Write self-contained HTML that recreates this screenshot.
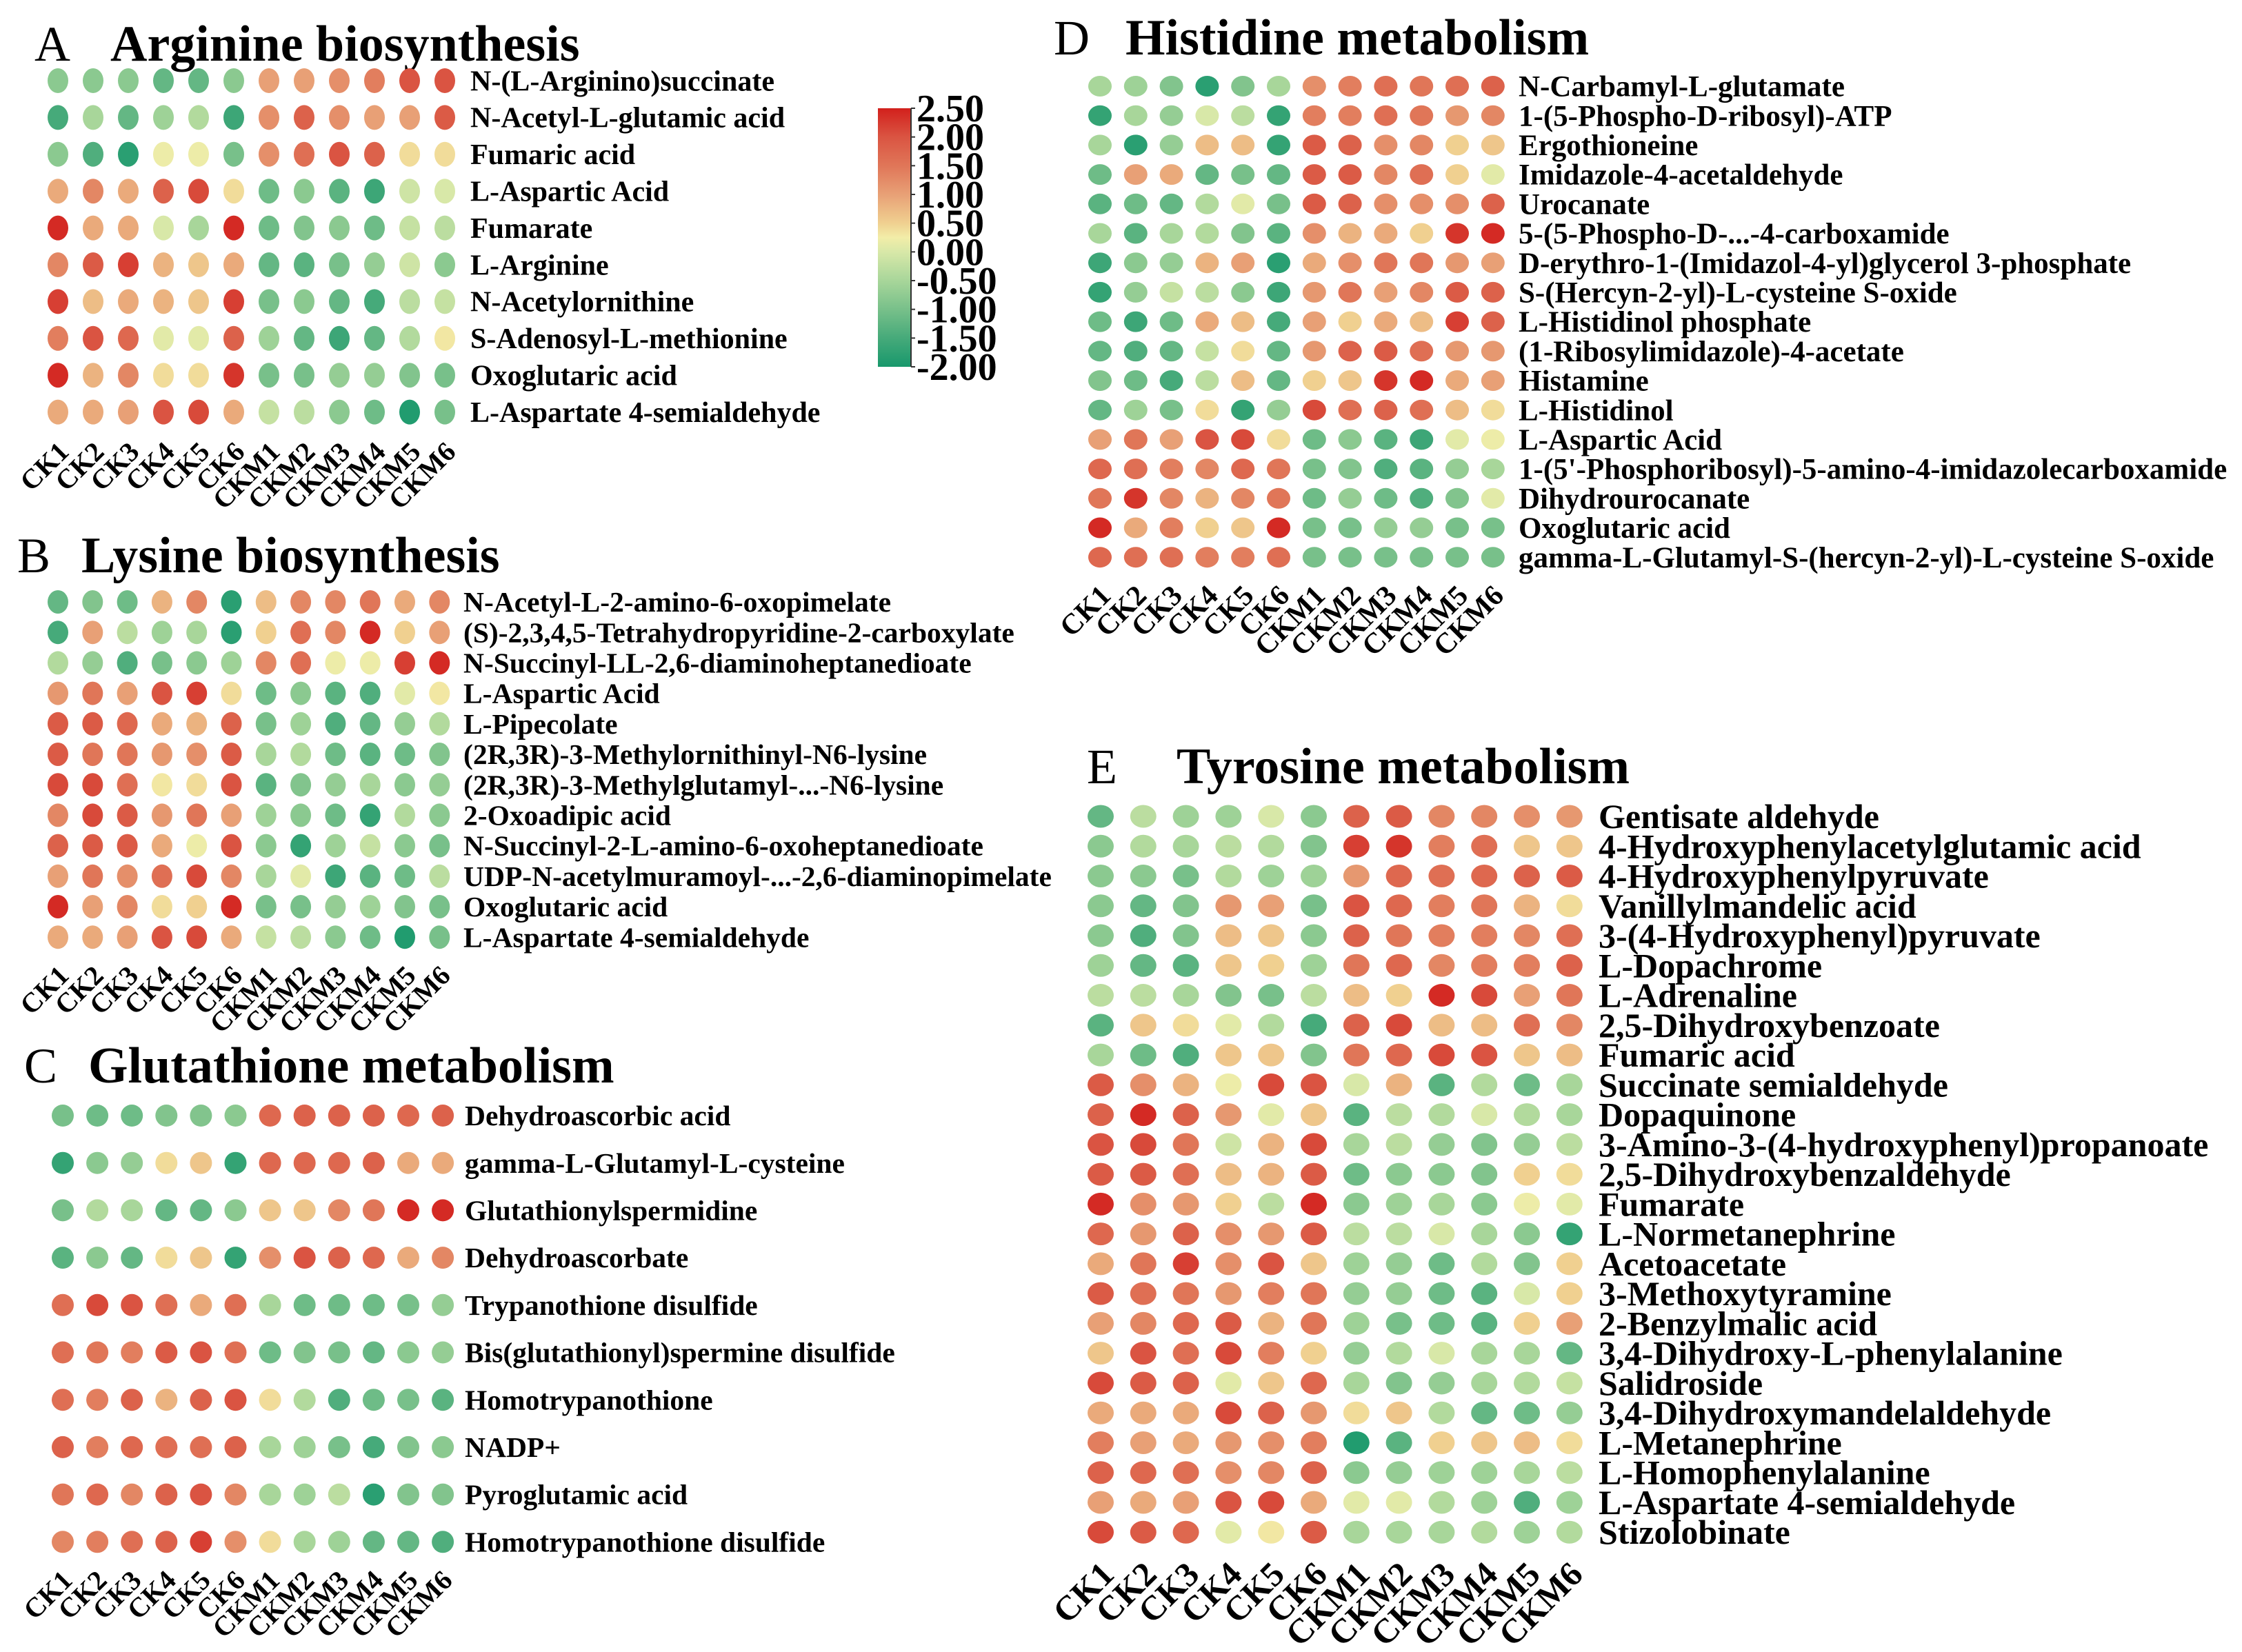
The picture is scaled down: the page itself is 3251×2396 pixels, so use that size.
<!DOCTYPE html>
<html><head><meta charset="utf-8"><title>Metabolic pathway heatmaps</title>
<style>
html,body{margin:0;padding:0;background:#fff;}
svg{display:block;}
text{font-family:"Liberation Serif","Times New Roman",serif;fill:#000;}
</style></head>
<body>
<svg id="fig" xmlns="http://www.w3.org/2000/svg" width="3251" height="2396" viewBox="0 0 3251 2396">
<rect x="0" y="0" width="3251" height="2396" fill="#fff"/>
<g id="colorbar"></g>
</svg>
<script>
const samples = ["CK1","CK2","CK3","CK4","CK5","CK6","CKM1","CKM2","CKM3","CKM4","CKM5","CKM6"];
const colorbarTicks = [2.5,2.0,1.5,1.0,0.5,0.0,-0.5,-1.0,-1.5,-2.0];
const colorbarLabels = ["2.50","2.00","1.50","1.00","0.50","0.00","-0.50","-1.00","-1.50","-2.00"];

const aRows = ["N-(L-Arginino)succinate","N-Acetyl-L-glutamic acid","Fumaric acid","L-Aspartic Acid","Fumarate","L-Arginine","N-Acetylornithine","S-Adenosyl-L-methionine","Oxoglutaric acid","L-Aspartate 4-semialdehyde"];
const aValues = [
[-0.8,-0.8,-0.8,-1.2,-1.2,-0.8,1.0,1.0,1.2,1.4,2.0,2.0],
[-1.5,-0.5,-1.2,-0.6,-0.4,-1.6,1.2,1.8,1.2,1.0,1.0,1.9],
[-0.8,-1.4,-1.8,0.2,0.2,-1.0,1.2,1.6,2.0,1.8,0.4,0.4],
[0.9,1.3,0.9,1.8,2.1,0.4,-1.1,-0.8,-1.3,-1.6,-0.1,0.0],
[2.4,0.9,0.9,0.0,-0.5,2.4,-1.1,-0.9,-0.8,-1.1,-0.2,-0.3],
[1.3,1.9,2.2,0.8,0.6,0.9,-1.2,-1.3,-1.0,-0.7,-0.1,-0.8],
[2.2,0.7,0.9,0.8,0.6,2.2,-1.0,-0.8,-1.2,-1.5,-0.3,-0.2],
[1.4,2.0,1.7,0.1,0.1,1.8,-0.6,-1.2,-1.6,-1.2,-0.4,0.3],
[2.4,0.8,1.3,0.4,0.4,2.3,-1.0,-1.0,-0.7,-0.7,-0.9,-1.0],
[0.9,0.9,1.0,2.0,2.1,0.9,-0.2,-0.3,-0.8,-1.1,-1.9,-1.0]];

const bRows = ["N-Acetyl-L-2-amino-6-oxopimelate","(S)-2,3,4,5-Tetrahydropyridine-2-carboxylate","N-Succinyl-LL-2,6-diaminoheptanedioate","L-Aspartic Acid","L-Pipecolate","(2R,3R)-3-Methylornithinyl-N6-lysine","(2R,3R)-3-Methylglutamyl-...-N6-lysine","2-Oxoadipic acid","N-Succinyl-2-L-amino-6-oxoheptanedioate","UDP-N-acetylmuramoyl-...-2,6-diaminopimelate","Oxoglutaric acid","L-Aspartate 4-semialdehyde"];
const bValues = [
[-1.2,-0.9,-1.1,0.8,1.3,-1.8,0.7,1.3,1.3,1.5,0.9,1.3],
[-1.5,1.0,-0.3,-0.6,-0.5,-1.8,0.5,1.6,1.3,2.4,0.5,1.0],
[-0.4,-0.7,-1.4,-1.0,-0.8,-0.6,1.3,1.6,0.2,0.2,2.2,2.4],
[1.1,1.5,1.0,2.0,2.2,0.4,-1.1,-0.8,-1.3,-1.4,0.1,0.3],
[1.9,1.9,1.7,0.9,0.8,1.8,-1.0,-0.6,-1.4,-1.2,-0.7,-0.4],
[1.9,1.5,1.5,1.1,1.2,1.9,-0.5,-0.4,-1.1,-1.3,-1.1,-0.9],
[2.1,2.1,1.6,0.3,0.4,2.0,-1.3,-0.9,-0.7,-0.5,-0.8,-0.7],
[1.3,2.1,1.9,1.1,1.5,1.0,-0.6,-0.8,-1.1,-1.7,-0.4,-0.8],
[1.8,1.9,1.9,0.9,0.2,2.0,-0.8,-1.7,-0.6,-0.2,-0.8,-1.0],
[1.0,1.5,1.2,1.6,2.1,1.3,-0.5,0.1,-1.6,-1.3,-1.1,-0.3],
[2.4,1.0,1.3,0.4,0.5,2.4,-1.0,-1.0,-0.7,-0.6,-0.9,-1.0],
[0.9,0.9,1.0,2.0,2.1,0.9,-0.2,-0.3,-0.8,-1.1,-1.9,-1.0]];

const cRows = ["Dehydroascorbic acid","gamma-L-Glutamyl-L-cysteine","Glutathionylspermidine","Dehydroascorbate","Trypanothione disulfide","Bis(glutathionyl)spermine disulfide","Homotrypanothione","NADP+","Pyroglutamic acid","Homotrypanothione disulfide"];
const cValues = [
[-1.0,-1.1,-1.1,-0.9,-0.9,-0.8,1.7,1.8,1.8,1.8,1.7,1.8],
[-1.7,-0.8,-0.7,0.4,0.6,-1.7,1.7,1.7,1.7,1.8,0.9,0.9],
[-1.0,-0.4,-0.5,-1.2,-1.2,-0.8,0.6,0.6,1.3,1.5,2.4,2.4],
[-1.3,-0.8,-1.2,0.4,0.6,-1.7,1.2,2.0,1.8,1.7,0.9,1.3],
[1.6,2.1,2.0,1.6,0.9,1.6,-0.5,-1.1,-1.1,-1.1,-1.0,-0.7],
[1.6,1.5,1.4,1.9,2.0,1.6,-1.1,-0.9,-1.0,-1.2,-0.8,-0.7],
[1.6,1.4,1.8,0.8,1.8,2.0,0.4,-0.4,-1.4,-1.1,-1.0,-1.3],
[1.8,1.4,1.7,1.6,1.6,1.8,-0.5,-0.6,-1.0,-1.5,-0.9,-0.8],
[1.5,1.7,1.3,1.8,2.0,1.3,-0.5,-0.6,-0.3,-1.8,-0.9,-0.9],
[1.3,1.4,1.6,1.8,2.2,1.2,0.4,-0.5,-0.6,-1.2,-1.2,-1.4]];

const dRows = ["N-Carbamyl-L-glutamate","1-(5-Phospho-D-ribosyl)-ATP","Ergothioneine","Imidazole-4-acetaldehyde","Urocanate","5-(5-Phospho-D-...-4-carboxamide","D-erythro-1-(Imidazol-4-yl)glycerol 3-phosphate","S-(Hercyn-2-yl)-L-cysteine S-oxide","L-Histidinol phosphate","(1-Ribosylimidazole)-4-acetate","Histamine","L-Histidinol","L-Aspartic Acid","1-(5'-Phosphoribosyl)-5-amino-4-imidazolecarboxamide","Dihydrourocanate","Oxoglutaric acid","gamma-L-Glutamyl-S-(hercyn-2-yl)-L-cysteine S-oxide"];
const dValues = [
[-0.5,-0.6,-0.9,-1.8,-0.9,-0.5,1.2,1.4,1.6,1.5,1.6,1.8],
[-1.7,-0.5,-0.7,0.0,-0.3,-1.7,1.4,1.4,1.6,1.5,1.1,1.3],
[-0.5,-1.8,-0.7,0.7,0.7,-1.7,1.9,1.8,1.2,1.3,0.5,0.6],
[-1.1,1.0,0.9,-1.2,-1.0,-1.2,1.9,1.9,1.3,1.6,0.5,0.1],
[-1.3,-1.1,-1.2,-0.4,0.1,-1.0,1.9,1.8,1.2,1.2,1.2,1.8],
[-0.5,-1.3,-0.5,-0.4,-0.9,-1.3,1.2,0.8,0.9,0.5,2.3,2.4],
[-1.6,-0.8,-0.7,0.8,1.0,-1.8,0.9,1.2,1.5,1.5,1.1,1.0],
[-1.7,-0.7,-0.2,-0.3,-0.8,-1.6,1.1,1.5,1.0,1.3,1.9,1.8],
[-1.1,-1.6,-1.1,0.9,0.7,-1.5,1.0,0.5,0.9,0.7,2.2,1.8],
[-1.2,-1.4,-1.2,-0.2,0.4,-1.2,1.1,1.8,1.9,1.6,1.1,1.1],
[-0.9,-1.1,-1.5,-0.3,0.7,-1.2,0.5,0.6,2.3,2.4,0.9,1.0],
[-1.2,-0.6,-1.0,0.4,-1.7,-0.7,2.1,1.6,1.8,1.6,0.7,0.4],
[1.0,1.5,1.0,2.0,2.1,0.4,-1.1,-0.8,-1.3,-1.6,0.1,0.2],
[1.7,1.6,1.4,1.3,1.7,1.5,-1.0,-0.9,-1.4,-1.3,-0.7,-0.5],
[1.5,2.3,1.3,0.8,1.3,1.5,-1.1,-0.7,-1.1,-1.4,-0.9,0.1],
[2.4,0.9,1.4,0.5,0.6,2.4,-1.0,-1.0,-0.7,-0.7,-1.0,-1.0],
[1.7,1.6,1.6,1.4,1.4,1.6,-1.0,-1.0,-1.0,-1.0,-1.0,-1.0]];

const eRows = ["Gentisate aldehyde","4-Hydroxyphenylacetylglutamic acid","4-Hydroxyphenylpyruvate","Vanillylmandelic acid","3-(4-Hydroxyphenyl)pyruvate","L-Dopachrome","L-Adrenaline","2,5-Dihydroxybenzoate","Fumaric acid","Succinate semialdehyde","Dopaquinone","3-Amino-3-(4-hydroxyphenyl)propanoate","2,5-Dihydroxybenzaldehyde","Fumarate","L-Normetanephrine","Acetoacetate","3-Methoxytyramine","2-Benzylmalic acid","3,4-Dihydroxy-L-phenylalanine","Salidroside","3,4-Dihydroxymandelaldehyde","L-Metanephrine","L-Homophenylalanine","L-Aspartate 4-semialdehyde","Stizolobinate"];
const eValues = [
[-1.2,-0.3,-0.6,-0.6,0.0,-0.8,1.8,1.9,1.3,1.3,1.2,1.1],
[-0.8,-0.4,-0.5,-0.3,-0.4,-0.9,2.2,2.3,1.4,1.6,0.6,0.6],
[-0.8,-0.8,-1.0,-0.4,-0.6,-0.6,1.1,1.7,1.6,1.7,1.8,1.9],
[-0.8,-1.2,-0.9,1.1,1.0,-1.0,2.0,1.7,1.4,1.5,0.8,0.4],
[-0.8,-1.4,-0.9,0.7,0.6,-0.8,1.8,1.5,1.4,1.4,1.3,1.6],
[-0.6,-1.2,-1.3,0.6,0.5,-0.6,1.5,1.7,1.3,1.4,1.4,1.8],
[-0.3,-0.3,-0.5,-0.9,-1.0,-0.3,0.7,0.5,2.4,2.1,1.0,1.5],
[-1.3,0.6,0.4,0.1,-0.4,-1.5,1.8,2.1,0.7,0.7,1.6,1.3],
[-0.5,-1.1,-1.4,0.6,0.6,-0.9,1.5,1.7,2.1,2.0,0.6,0.7],
[1.9,1.2,0.8,0.2,2.1,2.0,0.0,0.8,-1.3,-0.4,-1.1,-0.5],
[1.8,2.4,1.8,1.1,0.1,0.6,-1.3,-0.3,-0.4,0.0,-0.4,-0.5],
[2.0,2.1,1.5,-0.1,0.8,2.1,-0.5,-0.3,-0.7,-0.9,-0.7,-0.3],
[1.9,1.9,1.6,0.7,0.8,1.9,-1.1,-0.8,-0.8,-0.9,0.5,0.4],
[2.4,1.2,1.1,0.5,-0.3,2.4,-0.8,-0.6,-0.5,-0.8,0.2,0.1],
[1.7,1.1,1.8,1.2,1.1,1.9,-0.3,-0.3,0.0,-0.5,-0.8,-1.7],
[0.9,1.5,2.2,1.2,2.0,0.6,-0.6,-0.7,-1.1,-0.4,-0.9,0.5],
[1.9,1.6,1.5,1.1,1.4,1.5,-0.7,-0.7,-1.1,-1.3,0.0,0.5],
[1.0,1.3,1.7,1.9,0.8,1.5,-0.6,-1.0,-1.1,-1.3,0.5,1.0],
[0.6,2.0,1.6,2.1,1.4,0.5,-0.7,-0.4,0.0,-0.5,-0.5,-1.2],
[2.1,1.9,1.8,0.1,0.6,1.7,-0.5,-0.9,-0.7,-0.5,-0.4,-0.2],
[0.9,0.9,0.9,2.1,1.8,1.1,0.4,0.6,-0.4,-1.2,-1.1,-0.7],
[1.4,1.0,0.9,1.1,1.2,1.4,-1.9,-1.3,0.5,0.6,0.7,0.4],
[1.8,1.7,1.6,1.2,1.3,1.8,-0.8,-0.7,-0.6,-0.6,-0.5,-0.3],
[1.0,0.9,1.0,2.0,2.1,0.9,0.1,0.1,-0.4,-0.6,-1.4,-0.6],
[2.1,1.9,1.7,0.1,0.3,1.9,-0.5,-0.5,-0.5,-0.4,-0.6,-0.4]];

const NS = "http://www.w3.org/2000/svg";
const svg = document.getElementById("fig");
const stops = [[-2.0,[24,152,108]],[-1.5,[70,170,122]],[-1.0,[120,192,138]],[-0.5,[168,214,154]],[0.0,[216,232,168]],[0.25,[242,237,168]],[0.5,[240,208,144]],[1.0,[232,160,118]],[1.5,[224,118,88]],[2.0,[218,84,66]],[2.5,[210,32,28]]];
function colorOf(v){
  if(v<=stops[0][0]) return "rgb("+stops[0][1].join(",")+")";
  for(let i=1;i<stops.length;i++){
    if(v<=stops[i][0]){
      const a=stops[i-1],b=stops[i],t=(v-a[0])/(b[0]-a[0]);
      return "rgb("+a[1].map((c,k)=>Math.round(c+(b[1][k]-c)*t)).join(",")+")";
    }
  }
  return "rgb("+stops[stops.length-1][1].join(",")+")";
}
function mk(tag,attrs,parent){
  const el=document.createElementNS(NS,tag);
  for(const k in attrs) el.setAttribute(k,attrs[k]);
  (parent||svg).appendChild(el);
  return el;
}

function drawPanel(letter,title,rows,values,L){
  const g=mk("g",{});
  
  
  const xOf=j=>L.x0+j*L.dx;
  const yOf=i=>L.y0+i*L.dy;
  const lt=mk("text",{x:L.lx,y:L.ty,"font-size":L.ls},g);
  lt.textContent=letter;
  
  
  const tt=mk("text",{x:L.tx,y:L.ty,"font-size":L.ts,"font-weight":"bold"},g);
  tt.textContent=title;
  
  
  for(let i=0;i<rows.length;i++){
    for(let j=0;j<samples.length;j++){
      const c=mk("ellipse",{cx:xOf(j),cy:yOf(i),rx:L.rx,ry:L.ry,fill:colorOf(values[i][j])},g);
      
      
    }
    const t=mk("text",{x:L.labelX,y:yOf(i)+L.fs*0.34,"font-size":L.fs,"font-weight":"bold"},g);
    t.textContent=rows[i];
    
    
  }
  const last=yOf(rows.length-1);
  for(let j=0;j<samples.length;j++){
    const ax=xOf(j)+L.tkx, ay=last+L.tky;
    const t=mk("text",{x:ax,y:ay,"font-size":L.tfs,"font-weight":"bold","text-anchor":"end",transform:"rotate(-45 "+ax+" "+ay+")"},g);
    t.textContent=samples[j];
    
    
  }
}

drawPanel("A","Arginine biosynthesis",aRows,aValues,{x0:84,dx:51.0,y0:117,dy:53.4,rx:15,ry:18,labelX:682,fs:42,lx:50,tx:160,ty:88,ls:72,ts:74,tkx:18,tky:60,tfs:40});
drawPanel("B","Lysine biosynthesis",bRows,bValues,{x0:84,dx:50.3,y0:873,dy:44.2,rx:15,ry:17,labelX:672,fs:41.5,lx:25,tx:118,ty:830,ls:72,ts:74,tkx:18,tky:58,tfs:40});
drawPanel("C","Glutathione metabolism",cRows,cValues,{x0:91,dx:50.1,y0:1618,dy:68.7,rx:16,ry:16,labelX:674,fs:41.5,lx:35,tx:128,ty:1570,ls:72,ts:74,tkx:16,tky:58,tfs:40});
drawPanel("D","Histidine metabolism",dRows,dValues,{x0:1595,dx:51.8,y0:125,dy:42.7,rx:17,ry:15,labelX:2202,fs:43,lx:1528,tx:1632,ty:79,ls:72,ts:74,tkx:18,tky:58,tfs:42});
drawPanel("E","Tyrosine metabolism",eRows,eValues,{x0:1596,dx:61.8,y0:1184,dy:43.26,rx:19,ry:16.5,labelX:2318,fs:50,lx:1576,tx:1706,ty:1136,ls:72,ts:74,tkx:22,tky:64,tfs:50});

// colorbar
const cb=document.getElementById("colorbar");
const defs=mk("defs",{});
const grad=mk("linearGradient",{id:"cbgrad",x1:"0",y1:"1",x2:"0",y2:"0"},defs);
for(const s of stops){
  mk("stop",{offset:((s[0]+2)/4.5).toFixed(4),"stop-color":"rgb("+s[1].join(",")+")"},grad);
}
const cbTop=157,cbBot=532,cbX=1273,cbW=48;
const cbRect=mk("rect",{x:cbX,y:cbTop,width:cbW,height:cbBot-cbTop,fill:"url(#cbgrad)"},cb);


mk("line",{x1:cbX+cbW,y1:cbTop,x2:cbX+cbW,y2:cbBot,stroke:"#333","stroke-width":2},cb);
const cbY=v=>cbBot-(v+2)/4.5*(cbBot-cbTop);
for(let i=0;i<colorbarTicks.length;i++){
  const y=cbY(colorbarTicks[i]);
  mk("line",{x1:cbX+cbW,y1:y,x2:cbX+cbW+6,y2:y,stroke:"#333","stroke-width":2},cb);
  const t=mk("text",{x:cbX+cbW+8,y:y+19,"font-size":56,"font-weight":"bold"},cb);
  t.textContent=colorbarLabels[i];
  
  
}
</script>
</body></html>
